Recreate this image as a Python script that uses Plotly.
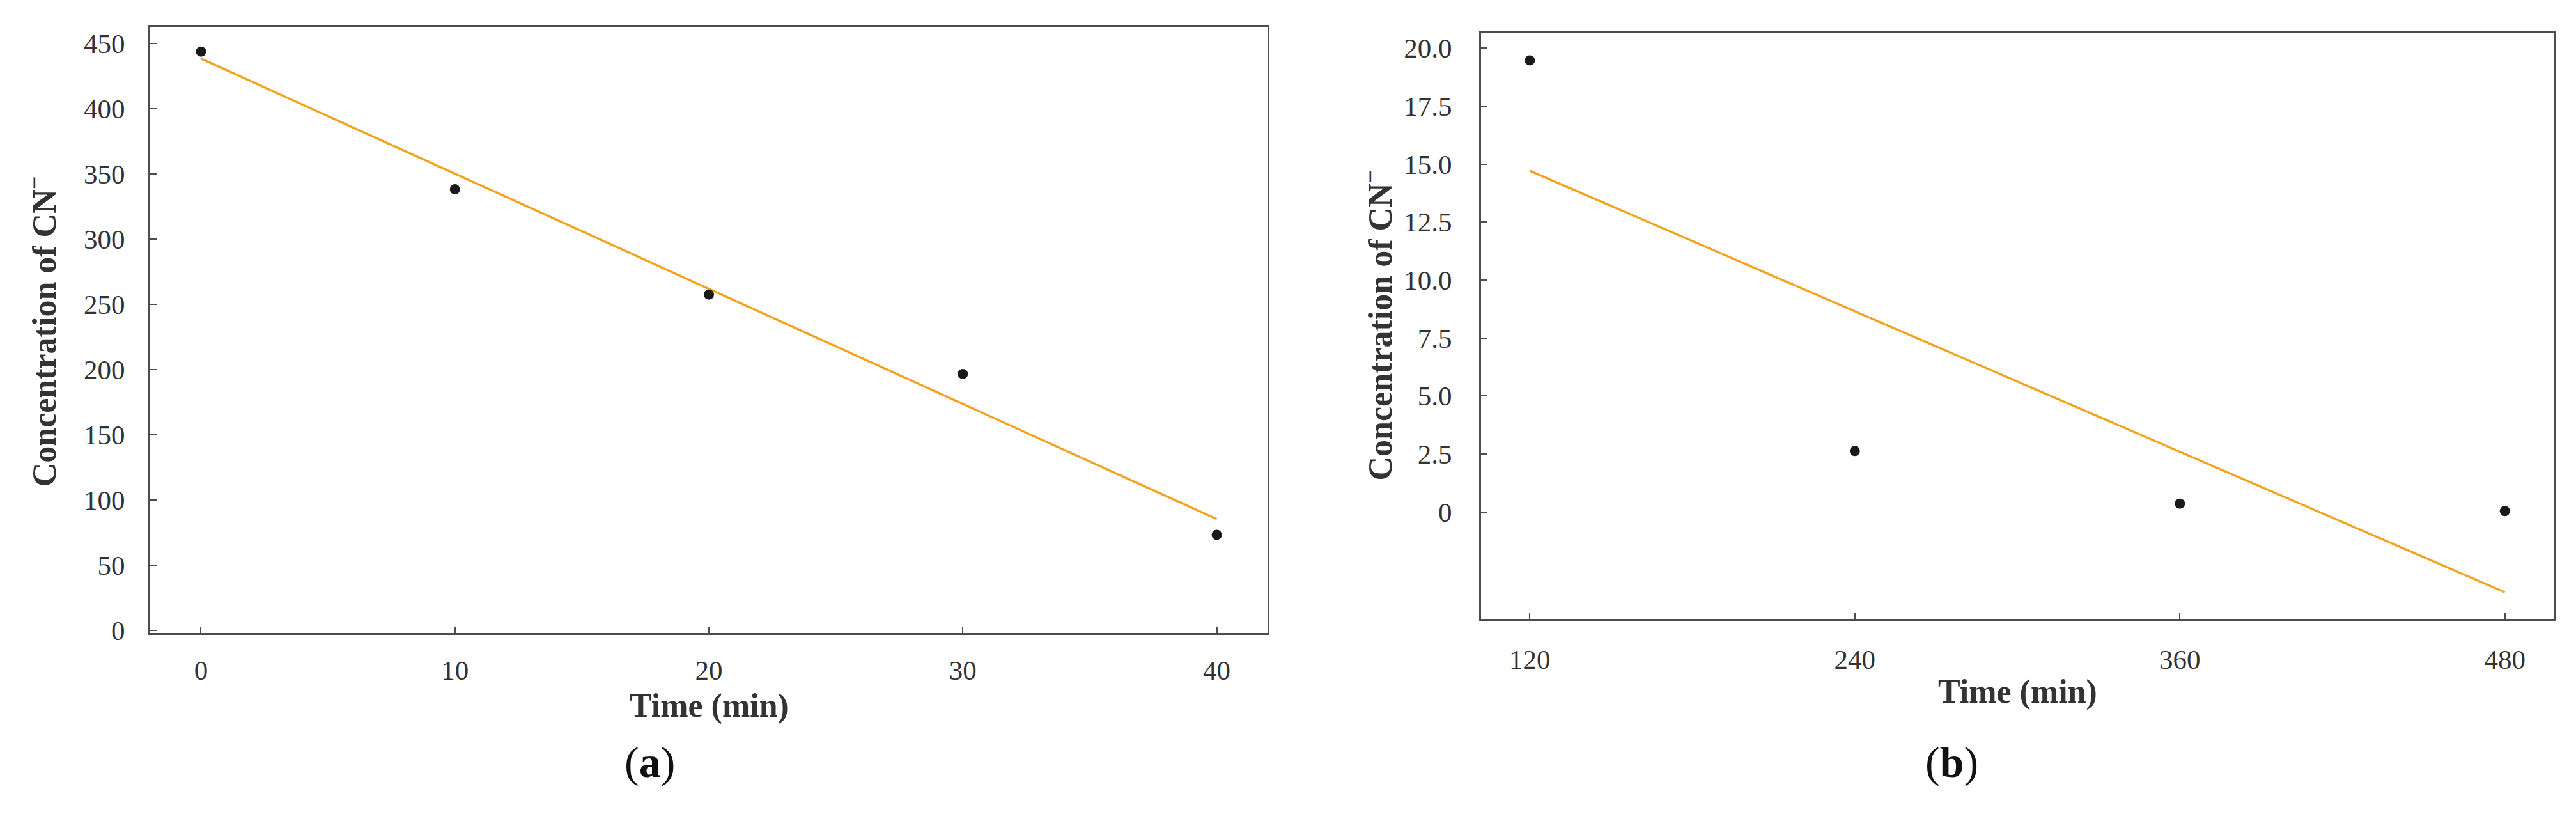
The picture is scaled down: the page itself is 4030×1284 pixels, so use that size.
import plotly.graph_objects as go

# ---- data ----
time_a = [0, 10, 20, 30, 40]
conc_a = [443.7, 338.1, 257.4, 196.5, 73.2]
fit_time_a = [0, 40]
fit_conc_a = [438.3, 85.3]

time_b = [120, 240, 360, 480]
conc_b = [19.47, 2.63, 0.36, 0.04]
fit_time_b = [120, 480]
fit_conc_b = [14.71, -3.46]

xticks_a = [0, 10, 20, 30, 40]
yticks_a = [0, 50, 100, 150, 200, 250, 300, 350, 400, 450]
xticks_b = [120, 240, 360, 480]
yticks_b = [0, 2.5, 5.0, 7.5, 10.0, 12.5, 15.0, 17.5, 20.0]
yticktext_b = ["0", "2.5", "5.0", "7.5", "10.0", "12.5", "15.0", "17.5", "20.0"]

x_title = "Time (min)"
y_title = "Concentration of CN<sup>−</sup>"
panel_labels = ["(<b>a</b>)", "(<b>b</b>)"]

# ---- styling ----
W, H = 4030, 1284
LINE_COL = "#4d4d4d"
TICK_FONT = dict(family="Liberation Serif", size=43, color="#333333")
TITLE_FONT = dict(family="Liberation Serif", size=52, color="#333333")
ORANGE = "#F4A11E"
DOT = "#1a1a1a"

def px(x):
    return x / W

def py(y):
    return 1 - y / H

fig = go.Figure()

fig.add_trace(go.Scatter(x=fit_time_a, y=fit_conc_a, mode="lines",
                         line=dict(color=ORANGE, width=3.4), xaxis="x", yaxis="y",
                         showlegend=False))
fig.add_trace(go.Scatter(x=time_a, y=conc_a, mode="markers",
                         marker=dict(color=DOT, size=16), xaxis="x", yaxis="y",
                         showlegend=False))
fig.add_trace(go.Scatter(x=fit_time_b, y=fit_conc_b, mode="lines",
                         line=dict(color=ORANGE, width=3.4), xaxis="x2", yaxis="y2",
                         showlegend=False))
fig.add_trace(go.Scatter(x=time_b, y=conc_b, mode="markers",
                         marker=dict(color=DOT, size=16), xaxis="x2", yaxis="y2",
                         showlegend=False))

common = dict(showline=True, linecolor=LINE_COL, linewidth=3, mirror=True,
              ticks="inside", ticklen=10, tickwidth=2, tickcolor=LINE_COL,
              showgrid=False, zeroline=False, tickfont=TICK_FONT)

A_L, A_R, A_T, A_B = 227, 1975, 35, 997
B_L, B_R, B_T, B_B = 2309, 3987, 45, 974

fig.update_layout(
    width=W, height=H,
    margin=dict(l=0, r=0, t=0, b=0),
    paper_bgcolor="white", plot_bgcolor="white",
    xaxis=dict(domain=[px(A_L), px(A_R)], range=[-2, 42], tickvals=xticks_a,
               anchor="y", ticklabelstandoff=18, **common),
    yaxis=dict(domain=[py(A_B), py(A_T)], range=[-2.2, 462.4], tickvals=yticks_a,
               anchor="x", ticklabelstandoff=28, **common),
    xaxis2=dict(domain=[px(B_L), px(B_R)], range=[102, 498], tickvals=xticks_b,
                anchor="y2", ticklabelstandoff=24, **common),
    yaxis2=dict(domain=[py(B_B), py(B_T)], range=[-4.6, 20.63], tickvals=yticks_b,
                ticktext=yticktext_b, anchor="x2", ticklabelstandoff=34, **common),
)

annots = []
annots.append(dict(text="<b>" + x_title + "</b>", x=px((A_L + A_R) / 2), y=py(1112),
                   xref="paper", yref="paper", xanchor="center", yanchor="middle",
                   showarrow=False, font=TITLE_FONT))
annots.append(dict(text="<b>" + x_title + "</b>", x=px((B_L + B_R) / 2), y=py(1090),
                   xref="paper", yref="paper", xanchor="center", yanchor="middle",
                   showarrow=False, font=TITLE_FONT))
annots.append(dict(text="<b>" + y_title + "</b>", x=px(58), y=py(518),
                   xref="paper", yref="paper", xanchor="center", yanchor="middle",
                   textangle=-90, showarrow=False, font=TITLE_FONT))
annots.append(dict(text="<b>" + y_title + "</b>", x=px(2148), y=py(508),
                   xref="paper", yref="paper", xanchor="center", yanchor="middle",
                   textangle=-90, showarrow=False, font=TITLE_FONT))
annots.append(dict(text=panel_labels[0], x=px(1008), y=py(1202),
                   xref="paper", yref="paper", xanchor="center", yanchor="middle",
                   showarrow=False, font=dict(family="Liberation Serif", size=68, color="#111111")))
annots.append(dict(text=panel_labels[1], x=px(3045), y=py(1202),
                   xref="paper", yref="paper", xanchor="center", yanchor="middle",
                   showarrow=False, font=dict(family="Liberation Serif", size=68, color="#111111")))
fig.update_layout(annotations=annots)

fig.write_html("out.html")
